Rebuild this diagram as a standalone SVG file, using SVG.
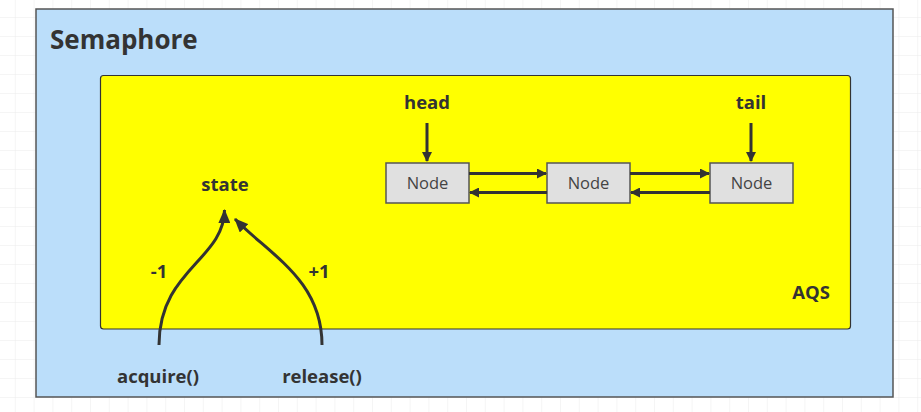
<svg xmlns="http://www.w3.org/2000/svg" width="921" height="412" viewBox="0 0 921 412">
<defs>
<pattern id="grid" width="18.8" height="19" patternUnits="userSpaceOnUse" x="-3" y="-1">
<rect width="18.8" height="19" fill="#ffffff"/>
<path d="M18.8 0V19M0 19H18.8" stroke="#ececec" stroke-width="1" fill="none"/>
</pattern>
<marker id="ah" viewBox="0 0 10 10" refX="9" refY="5" markerWidth="10" markerHeight="10" markerUnits="userSpaceOnUse" orient="auto">
<path d="M0 0L10 5L0 10Z" fill="#333"/>
</marker>
<marker id="ahb" viewBox="0 0 14 12" refX="13" refY="6" markerWidth="14" markerHeight="12" markerUnits="userSpaceOnUse" orient="auto">
<path d="M0 0L14 6L0 12Z" fill="#333"/>
</marker>
</defs>
<style>
.bold{font-family:"Open Sans","Noto Sans",sans-serif;font-weight:bold;fill:#333;}
.lbl{font-size:18.5px;}
.nd rect{fill:#e0e0e0;stroke:#555;stroke-width:1.5;}
.nd text{font-family:"Open Sans","Noto Sans",sans-serif;font-size:16.5px;fill:#444;text-anchor:middle;}
.conn path{fill:none;stroke:#333;stroke-width:3;}
</style>
<rect width="921" height="412" fill="url(#grid)"/>
<g id="semaphore">
<rect x="36" y="9" width="857" height="388" fill="#bbdefa" stroke="#555" stroke-width="1.5"/>
<text x="50" y="49" class="bold" font-size="26">Semaphore</text>
</g>
<g id="aqs">
<rect x="100.5" y="75.5" width="750" height="253.5" rx="3" fill="#ffff00" stroke="#333" stroke-width="1.2"/>
<text x="811" y="299" class="bold lbl" text-anchor="middle">AQS</text>
</g>
<g id="node1" class="nd"><rect x="386" y="163" width="83" height="40"/><text x="427.5" y="188.5">Node</text></g>
<g id="node2" class="nd"><rect x="547" y="163" width="83" height="40"/><text x="588.5" y="188.5">Node</text></g>
<g id="node3" class="nd"><rect x="710" y="163" width="83" height="40"/><text x="751.5" y="188.5">Node</text></g>
<g id="head"><text x="427" y="109" class="bold lbl" text-anchor="middle">head</text></g>
<g id="tail"><text x="751" y="109" class="bold lbl" text-anchor="middle">tail</text></g>
<g id="state"><text x="225" y="191" class="bold lbl" text-anchor="middle">state</text></g>
<g id="acquire"><text x="158" y="383" class="bold lbl" text-anchor="middle">acquire()</text></g>
<g id="release"><text x="322" y="383" class="bold lbl" text-anchor="middle">release()</text></g>
<g class="conn" id="connectors">
<path d="M427 123V161" marker-end="url(#ah)"/>
<path d="M751 123V161" marker-end="url(#ah)"/>
<path d="M469 173.5H546" marker-end="url(#ah)"/>
<path d="M547 192.5H470" marker-end="url(#ah)"/>
<path d="M630 173.5H709" marker-end="url(#ah)"/>
<path d="M710 192.5H631" marker-end="url(#ah)"/>
<path d="M159 345C159 270 224 260 224.5 210" marker-end="url(#ahb)"/>
<path d="M322 345C322 280 270 255 235 219" marker-end="url(#ahb)"/>
<text x="159" y="278" class="bold lbl" text-anchor="middle" stroke="none">-1</text>
<text x="319" y="278" class="bold lbl" text-anchor="middle" stroke="none">+1</text>
</g>
</svg>
